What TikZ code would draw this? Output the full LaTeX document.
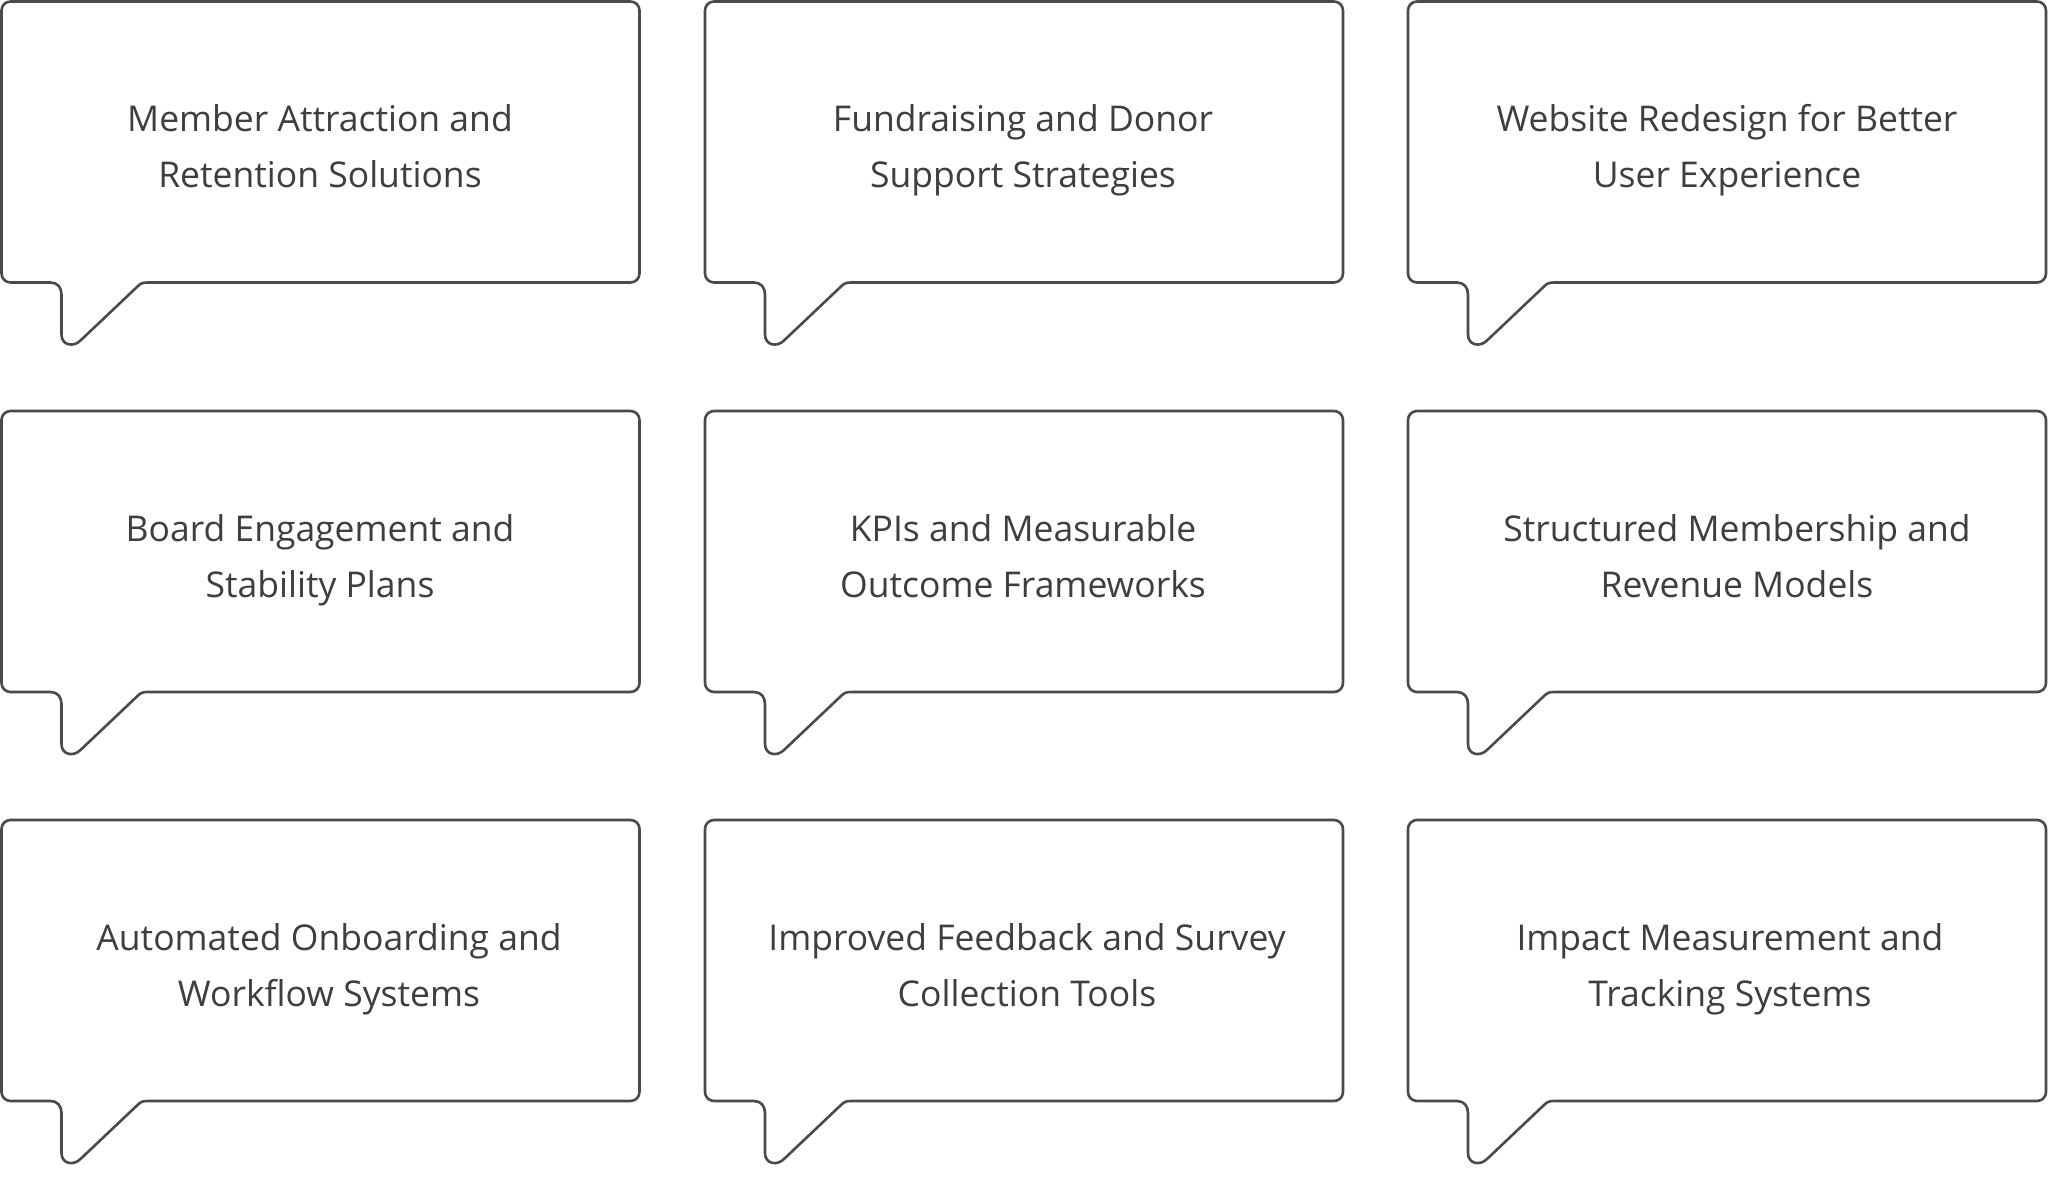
\documentclass[tikz,border=0pt]{standalone}
\usepackage{fontspec}
\setmainfont{Open Sans}
\definecolor{linegray}{HTML}{4A4A4A}
\definecolor{textgray}{HTML}{3E3E3E}
\tikzset{
  bubble/.style={draw=linegray, line width=2.6pt, line join=round, fill=white},
  bubbletext/.style={text=textgray, align=center, anchor=base, font=\fontsize{35.5}{56}\selectfont, inner sep=0pt}
}
\newcommand\speechbubble[2]{%
  \draw[bubble] (#1+300,#2) -- (#1+629,#2) .. controls (#1+634,#2) and (#1+638,#2+4) .. (#1+638,#2+9)
    -- (#1+638,#2+272) .. controls (#1+638,#2+277) and (#1+634,#2+281) .. (#1+629,#2+281)
    -- (#1+146,#2+281) .. controls (#1+141,#2+281) and (#1+139,#2+282) .. (#1+136,#2+285)
    -- (#1+79,#2+339) .. controls (#1+72,#2+346) and (#1+60,#2+344) .. (#1+60,#2+333)
    -- (#1+60,#2+293) .. controls (#1+60,#2+286) and (#1+56,#2+281) .. (#1+49,#2+281)
    -- (#1+9,#2+281) .. controls (#1+4,#2+281) and (#1,#2+277) .. (#1,#2+272)
    -- (#1,#2+9) .. controls (#1,#2+4) and (#1+4,#2) .. (#1+9,#2) -- cycle;
}
\begin{document}
\begin{tikzpicture}[x=1pt,y=-1pt]
\useasboundingbox[fill=white] (0,0) rectangle (2048,1180);
\speechbubble{1.5}{1.5}
\speechbubble{705}{1.5}
\speechbubble{1408}{1.5}
\speechbubble{1.5}{411}
\speechbubble{705}{411}
\speechbubble{1408}{411}
\speechbubble{1.5}{820}
\speechbubble{705}{820}
\speechbubble{1408}{820}
\node[bubbletext] (t11) at (320,187) {Member Attraction and\\Retention Solutions};
\node[bubbletext] (t12) at (1023,187) {Fundraising and Donor\\Support Strategies};
\node[bubbletext] (t13) at (1727,187) {Website Redesign for Better\\User Experience};
\node[bubbletext] (t21) at (320,597) {Board Engagement and\\Stability Plans};
\node[bubbletext] (t22) at (1023,597) {KPIs and Measurable\\Outcome Frameworks};
\node[bubbletext] (t23) at (1737,597) {Structured Membership and\\Revenue Models};
\node[bubbletext] (t31) at (329,1006) {Automated Onboarding and\\Workflow Systems};
\node[bubbletext] (t32) at (1027,1006) {Improved Feedback and Survey\\Collection Tools};
\node[bubbletext] (t33) at (1730,1006) {Impact Measurement and\\Tracking Systems};
\end{tikzpicture}
\end{document}
